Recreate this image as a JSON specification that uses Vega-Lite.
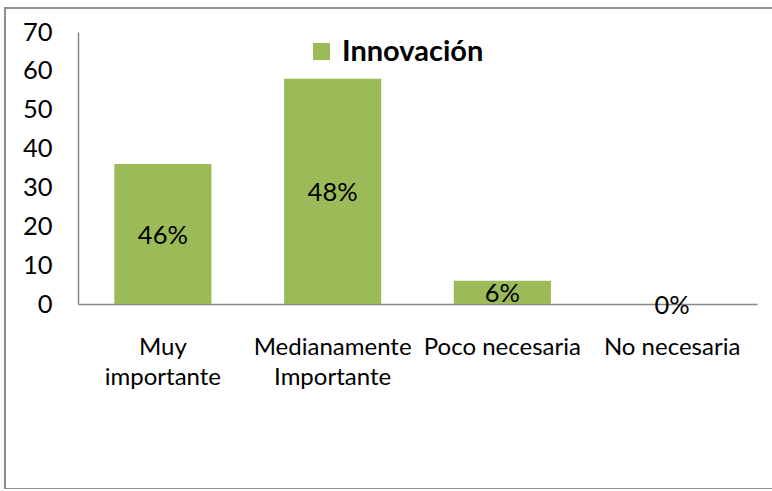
{
  "$schema": "https://vega.github.io/schema/vega-lite/v6.json",
  "autosize": {"type": "none"},
  "padding": {"left": 5, "top": 8, "right": 0, "bottom": 0},
  "width": 770,
  "height": 481,
  "background": "white",
  "config": {
    "font": "Lato",
    "view": {"stroke": "#8c8c8c", "strokeWidth": 2}
  },
  "data": {
    "values": [
      {"categoria": "Muy importante", "valor": 36, "pct": "46%", "serie": "Innovación"},
      {"categoria": "Medianamente Importante", "valor": 58, "pct": "48%", "serie": "Innovación"},
      {"categoria": "Poco necesaria", "valor": 6, "pct": "6%", "serie": "Innovación"},
      {"categoria": "No necesaria", "valor": 0, "pct": "0%", "serie": "Innovación"}
    ]
  },
  "encoding": {
    "x": {
      "field": "categoria",
      "type": "nominal",
      "sort": null,
      "scale": {"range": [73, 752], "paddingInner": 0.428, "paddingOuter": 0.214},
      "axis": {
        "title": null,
        "offset": -185,
        "labelAngle": 0,
        "ticks": false,
        "domainColor": "#868686",
        "domainWidth": 1.5,
        "labelFont": "Lato",
        "labelFontSize": 24,
        "labelColor": "#000000",
        "labelPadding": 31,
        "labelLineHeight": 30,
        "labelLimit": 0,
        "labelExpr": "datum.value == 'Muy importante' ? ['Muy', 'importante'] : datum.value == 'Medianamente Importante' ? ['Medianamente', 'Importante'] : datum.value"
      }
    }
  },
  "layer": [
    {
      "mark": {"type": "bar", "color": "#9BBB59"},
      "encoding": {
        "y": {
          "field": "valor",
          "type": "quantitative",
          "scale": {"domain": [0, 70], "range": [296, 24], "nice": false},
          "axis": {
            "title": null,
            "values": [0, 10, 20, 30, 40, 50, 60, 70],
            "offset": -73,
            "ticks": false,
            "grid": false,
            "domainColor": "#868686",
            "domainWidth": 1.5,
            "labelFont": "Lato",
            "labelFontSize": 25.5,
            "labelColor": "#000000",
            "labelPadding": 26
          }
        },
        "color": {
          "field": "serie",
          "type": "nominal",
          "scale": {"range": ["#9BBB59"]},
          "legend": {
            "title": null,
            "orient": "none",
            "legendX": 302,
            "legendY": 29,
            "symbolType": "square",
            "symbolSize": 290,
            "symbolStrokeWidth": 0,
            "labelFont": "Lato",
            "labelFontSize": 29,
            "labelFontWeight": "bold",
            "labelColor": "#000000",
            "labelOffset": 6
          }
        }
      }
    },
    {
      "transform": [{"calculate": "datum.valor / 2", "as": "medio"}],
      "mark": {"type": "text", "font": "Lato", "fontSize": 25.5, "color": "#000000", "baseline": "middle", "dy": 2},
      "encoding": {
        "y": {"field": "medio", "type": "quantitative"},
        "text": {"field": "pct"}
      }
    }
  ]
}
